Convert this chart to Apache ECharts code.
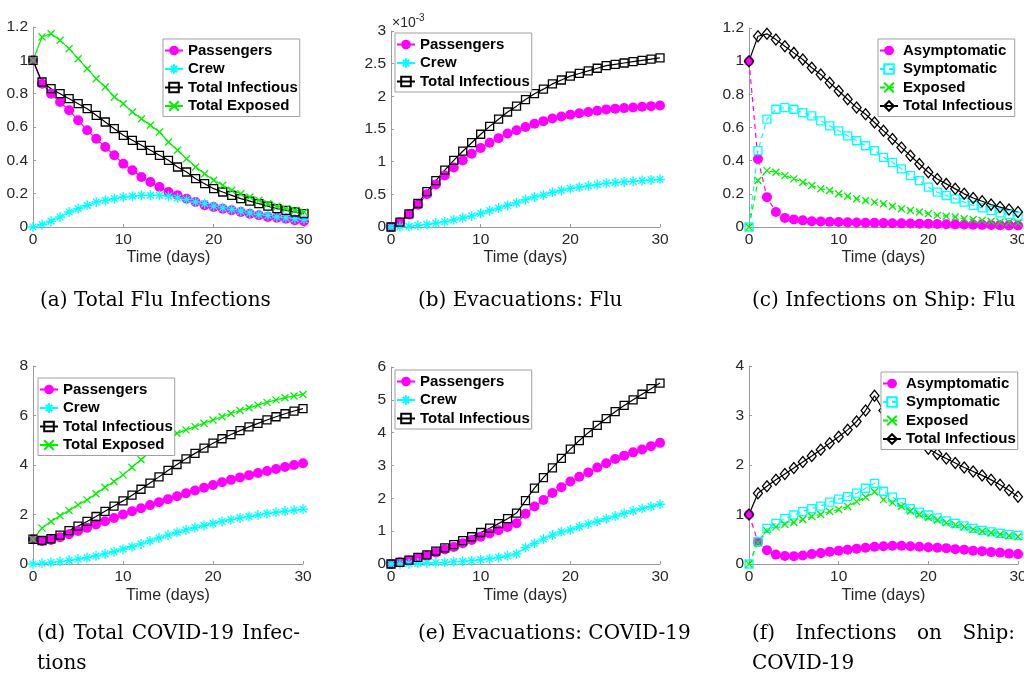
<!DOCTYPE html>
<html><head><meta charset="utf-8">
<script src="https://cdn.jsdelivr.net/npm/echarts@6/dist/echarts.min.js"></script>
<style>html,body{margin:0;padding:0;background:#fff}#chart{width:1024px;height:680px}</style>
</head><body><div id="chart"></div>
<script>
// ---------------- DATA ----------------
const days = [0,1,2,3,4,5,6,7,8,9,10,11,12,13,14,15,16,17,18,19,20,21,22,23,24,25,26,27,28,29,30];
const xTicks = [0, 10, 20, 30];

// (a) Total Flu Infections
const fluPassengers = [1.0,0.86,0.80,0.75,0.70,0.64,0.58,0.53,0.48,0.43,0.38,0.34,0.30,0.27,0.24,0.21,0.19,0.17,0.15,0.13,0.12,0.11,0.10,0.09,0.08,0.07,0.06,0.055,0.05,0.04,0.035];
const fluCrew = [0,0.015,0.035,0.06,0.09,0.11,0.13,0.15,0.16,0.17,0.18,0.185,0.19,0.19,0.19,0.185,0.175,0.165,0.15,0.14,0.125,0.115,0.105,0.095,0.085,0.075,0.07,0.06,0.055,0.05,0.045];
const fluTotalInfectious = [1.0,0.87,0.83,0.80,0.77,0.74,0.71,0.67,0.63,0.59,0.55,0.52,0.49,0.46,0.43,0.40,0.36,0.33,0.29,0.26,0.23,0.21,0.19,0.17,0.155,0.14,0.125,0.11,0.10,0.09,0.08];
const fluTotalExposed = [1.0,1.14,1.16,1.12,1.07,1.01,0.95,0.89,0.84,0.78,0.74,0.69,0.65,0.61,0.57,0.51,0.46,0.41,0.36,0.32,0.28,0.25,0.22,0.20,0.18,0.16,0.14,0.125,0.11,0.10,0.09];

// (b) Evacuations: Flu  (units of 1e-3)
const evacFluPassengers = [0,0.07,0.19,0.34,0.50,0.65,0.79,0.91,1.02,1.12,1.21,1.29,1.36,1.43,1.48,1.53,1.58,1.62,1.66,1.69,1.72,1.74,1.76,1.78,1.80,1.81,1.82,1.83,1.84,1.85,1.86];
const evacFluCrew = [0,0.003,0.01,0.025,0.04,0.06,0.08,0.11,0.14,0.17,0.21,0.25,0.29,0.33,0.37,0.42,0.46,0.49,0.53,0.56,0.59,0.61,0.63,0.65,0.67,0.68,0.69,0.70,0.71,0.72,0.73];
const evacFluTotal = [0,0.075,0.20,0.36,0.54,0.71,0.87,1.02,1.16,1.29,1.42,1.54,1.65,1.76,1.85,1.95,2.04,2.11,2.19,2.25,2.31,2.35,2.39,2.43,2.47,2.49,2.51,2.53,2.55,2.57,2.59];

// (c) Infections on Ship: Flu
const shipFluAsym = [1.0,0.41,0.18,0.09,0.055,0.045,0.04,0.035,0.033,0.031,0.03,0.028,0.027,0.026,0.025,0.024,0.023,0.022,0.021,0.02,0.019,0.018,0.017,0.016,0.015,0.014,0.013,0.012,0.011,0.01,0.009];
const shipFluSym = [0,0.46,0.65,0.71,0.72,0.71,0.69,0.67,0.64,0.61,0.58,0.55,0.52,0.49,0.46,0.42,0.39,0.35,0.31,0.28,0.24,0.21,0.19,0.17,0.15,0.13,0.115,0.10,0.085,0.075,0.065];
const shipFluExposed = [0,0.28,0.34,0.33,0.31,0.29,0.27,0.25,0.23,0.22,0.20,0.185,0.17,0.16,0.15,0.14,0.125,0.11,0.10,0.09,0.08,0.07,0.065,0.06,0.05,0.045,0.04,0.035,0.03,0.028,0.025];
const shipFluTotal = [1.0,1.15,1.165,1.13,1.09,1.05,1.01,0.96,0.92,0.87,0.82,0.77,0.72,0.68,0.63,0.58,0.53,0.48,0.43,0.38,0.33,0.29,0.26,0.23,0.20,0.175,0.155,0.135,0.12,0.105,0.09];

// (d) Total COVID-19 Infections
const covPassengers = [1.0,0.93,0.97,1.08,1.2,1.33,1.46,1.6,1.73,1.86,2.0,2.13,2.25,2.38,2.5,2.62,2.74,2.86,2.97,3.08,3.19,3.3,3.4,3.5,3.59,3.68,3.76,3.84,3.92,4.0,4.07];
const covCrew = [0,0.03,0.06,0.1,0.15,0.2,0.26,0.33,0.41,0.5,0.6,0.7,0.81,0.93,1.05,1.17,1.28,1.38,1.47,1.56,1.64,1.72,1.79,1.86,1.92,1.98,2.04,2.09,2.14,2.18,2.22];
const covTotalInfectious = [1.0,0.95,1.02,1.17,1.35,1.53,1.72,1.92,2.13,2.34,2.55,2.78,3.02,3.27,3.52,3.78,4.02,4.25,4.47,4.68,4.88,5.06,5.23,5.39,5.54,5.68,5.82,5.95,6.07,6.18,6.28];
const covTotalExposed = [1.0,1.45,1.72,1.95,2.16,2.39,2.59,2.84,3.1,3.33,3.6,3.91,4.21,4.52,4.8,5.08,5.28,5.42,5.55,5.69,5.82,5.95,6.08,6.2,6.31,6.42,6.53,6.63,6.72,6.79,6.85];

// (e) Evacuations: COVID-19
const evacCovPassengers = [0,0.05,0.11,0.18,0.25,0.35,0.44,0.52,0.63,0.73,0.83,0.93,1.03,1.13,1.24,1.53,1.75,1.95,2.16,2.34,2.51,2.66,2.79,2.94,3.07,3.2,3.3,3.4,3.49,3.59,3.69];
const evacCovCrew = [0,0,0.01,0.02,0.03,0.04,0.05,0.07,0.08,0.1,0.13,0.16,0.2,0.25,0.31,0.5,0.63,0.76,0.88,0.98,1.04,1.14,1.22,1.3,1.38,1.46,1.54,1.62,1.69,1.75,1.82];
const evacCovTotal = [0,0.05,0.12,0.2,0.28,0.39,0.49,0.59,0.71,0.83,0.96,1.09,1.23,1.38,1.55,1.93,2.31,2.63,2.93,3.22,3.5,3.76,4.0,4.22,4.43,4.64,4.83,5.0,5.17,5.34,5.51];

// (f) Infections on Ship: COVID-19
const shipCovAsym = [1.0,0.45,0.28,0.19,0.16,0.155,0.17,0.2,0.22,0.25,0.27,0.29,0.31,0.33,0.35,0.36,0.37,0.37,0.36,0.35,0.34,0.33,0.32,0.3,0.29,0.27,0.26,0.24,0.23,0.21,0.2];
const shipCovSym = [0,0.45,0.72,0.82,0.92,0.99,1.06,1.12,1.17,1.25,1.31,1.36,1.43,1.53,1.63,1.47,1.35,1.24,1.12,1.05,0.99,0.93,0.87,0.82,0.77,0.72,0.68,0.65,0.62,0.6,0.58];
const shipCovExposed = [0,0.43,0.67,0.75,0.80,0.84,0.90,0.96,1.0,1.06,1.10,1.16,1.26,1.35,1.46,1.3,1.24,1.16,1.07,1.0,0.94,0.89,0.83,0.79,0.75,0.7,0.66,0.63,0.6,0.57,0.55];
const shipCovTotal = [1.0,1.43,1.57,1.70,1.82,1.94,2.06,2.18,2.31,2.44,2.57,2.71,2.88,3.10,3.40,3.1,2.93,2.77,2.62,2.47,2.33,2.22,2.13,2.04,1.95,1.87,1.79,1.70,1.60,1.49,1.36];

// axis ranges [max, step]
const yRangeA = [1.2, 0.2], yRangeB = [3, 0.5], yRangeC = [1.2, 0.2];
const yRangeD = [8, 2], yRangeE = [6, 1], yRangeF = [4, 1];

const captions = ['(a) Total Flu Infections', '(b) Evacuations: Flu', '(c) Infections on Ship: Flu',
  '(d) Total COVID-19 Infec-', 'tions', '(e) Evacuations: COVID-19', '(f) Infections on Ship:', 'COVID-19'];

// ---------------- STYLE ----------------
const M = '#FF00FF', C = '#00FFFF', G = '#00F000', K = '#000000', T = 'rgba(0,0,0,0)';
const ASTER = 'path://M5,0L5,10M0,5L10,5M1.6,1.6L8.4,8.4M1.6,8.4L8.4,1.6';
const XMARK = 'path://M0,0L10,10M0,10L10,0';
const STY = {
  passengers: {label:'Passengers', symbol:'circle', size:10, line:M, fill:M, border:M, bw:0, dash:'solid'},
  crew:       {label:'Crew', symbol:ASTER, size:10, line:C, fill:T, border:C, bw:1.3, dash:'solid'},
  totInfSq:   {label:'Total Infectious', symbol:'rect', size:8, line:K, fill:T, border:K, bw:1.3, dash:'solid'},
  totExp:     {label:'Total Exposed', symbol:XMARK, size:7, line:G, fill:T, border:G, bw:1.3, dash:'solid'},
  asym:       {label:'Asymptomatic', symbol:'circle', size:10, line:M, fill:M, border:M, bw:0, dash:[5,4]},
  sym:        {label:'Symptomatic', symbol:'rect', size:8, line:C, fill:T, border:C, bw:1.3, dash:[5,4]},
  exposed:    {label:'Exposed', symbol:XMARK, size:7, line:G, fill:T, border:G, bw:1.3, dash:[5,4]},
  totInfDia:  {label:'Total Infectious', symbol:'diamond', size:[9,11], line:K, fill:T, border:K, bw:1.3, dash:'solid'}
};

const panels = [
  {id:'a', grid:{left:33, top:27, width:271, height:200}, y:yRangeA, legend:{left:163, top:39},
   s:[['passengers',fluPassengers],['crew',fluCrew],['totInfSq',fluTotalInfectious],['totExp',fluTotalExposed]]},
  {id:'b', grid:{left:391, top:31, width:269, height:196}, y:yRangeB, legend:{left:395, top:33}, exp:true,
   s:[['passengers',evacFluPassengers],['crew',evacFluCrew],['totInfSq',evacFluTotal]]},
  {id:'c', grid:{left:749, top:28, width:269, height:199}, y:yRangeC, legend:{left:878, top:39},
   s:[['asym',shipFluAsym],['sym',shipFluSym],['exposed',shipFluExposed],['totInfDia',shipFluTotal]]},
  {id:'d', grid:{left:33, top:366, width:270, height:198}, y:yRangeD, legend:{left:38, top:378},
   s:[['passengers',covPassengers],['crew',covCrew],['totInfSq',covTotalInfectious],['totExp',covTotalExposed]]},
  {id:'e', grid:{left:391, top:367, width:269, height:197}, y:yRangeE, legend:{left:395, top:370},
   s:[['passengers',evacCovPassengers],['crew',evacCovCrew],['totInfSq',evacCovTotal]]},
  {id:'f', grid:{left:749, top:366, width:269, height:198}, y:yRangeF, legend:{left:881, top:372},
   s:[['asym',shipCovAsym],['sym',shipCovSym],['exposed',shipCovExposed],['totInfDia',shipCovTotal]]}
];

const SANS = '"Liberation Sans", Arial, Helvetica, sans-serif';
const AX = '#9a9a9a', TXT = '#262626';

const option = {backgroundColor:'#fff', animation:false, grid:[], xAxis:[], yAxis:[], series:[], legend:[], graphic:[]};

panels.forEach((p, i) => {
  option.grid.push(Object.assign({containLabel:false, outerBoundsMode:'none'}, p.grid));
  option.xAxis.push({
    gridIndex:i, type:'value', min:xTicks[0], max:xTicks[xTicks.length-1], interval:xTicks[1]-xTicks[0],
    axisLine:{show:true, onZero:false, lineStyle:{color:AX, width:1}},
    axisTick:{show:true, inside:true, length:3, lineStyle:{color:AX}},
    axisLabel:{color:TXT, fontSize:15.5, fontFamily:SANS, margin:5},
    splitLine:{show:false},
    name:'Time (days)', nameLocation:'middle', nameGap: i < 3 ? 23 : 24,
    nameTextStyle:{color:TXT, fontSize:16, fontFamily:SANS}
  });
  const y = {
    gridIndex:i, type:'value', min:0, max:p.y[0], interval:p.y[1],
    axisLine:{show:true, onZero:false, lineStyle:{color:AX, width:1}},
    axisTick:{show:true, inside:true, length:3, lineStyle:{color:AX}},
    axisLabel:{color:TXT, fontSize:15.5, fontFamily:SANS, margin:5},
    splitLine:{show:false}
  };
  if (p.exp) {
    y.name = '{m|×10}{e|-3}';
    y.nameLocation = 'end';
    y.nameGap = 1;
    y.nameTextStyle = {align:'left', verticalAlign:'bottom', padding:[0,0,0,1],
      rich:{m:{fontSize:14, fontFamily:SANS, color:TXT, verticalAlign:'bottom'},
            e:{fontSize:10, fontFamily:SANS, color:TXT, verticalAlign:'top', padding:[0,0,7,0]}}};
  }
  option.yAxis.push(y);
  const names = [];
  p.s.forEach(([key, arr]) => {
    const st = STY[key];
    const name = p.id + '|' + st.label;
    names.push(name);
    option.series.push({
      type:'line', name, xAxisIndex:i, yAxisIndex:i,
      data: days.map((d, k) => [d, arr[k]]),
      symbol: st.symbol, symbolSize: st.size, showAllSymbol:true,
      lineStyle:{color:st.line, width:1.2, type:st.dash},
      itemStyle:{color:st.fill, borderColor:st.border, borderWidth:st.bw},
      emphasis:{disabled:true}, silent:true, animation:false
    });
  });
  option.legend.push({
    left:p.legend.left, top:p.legend.top, orient:'vertical', data:names,
    formatter: n => n.split('|')[1],
    itemWidth:18, itemHeight:12, itemGap:3.5, padding:[4,2,3,1],
    backgroundColor:'#fff', borderColor:'#a0a0a0', borderWidth:1, borderRadius:0,
    selectedMode:false,
    textStyle:{color:'#000', fontWeight:'bold', fontSize:15, fontFamily:SANS}
  });
});

// captions (LaTeX-like, justified where the reference wraps)
const SERIF = '20px "DejaVu Serif", serif';
const ctx = document.createElement('canvas').getContext('2d');
ctx.font = SERIF;
function plain(text, x, y) {
  option.graphic.push({type:'text', x, y, silent:true,
    style:{text, font:SERIF, fill:'#000', align:'left', verticalAlign:'middle', textVerticalAlign:'middle'}});
}
function justified(text, x0, x1, y) {
  const words = text.split(' ');
  const widths = words.map(w => ctx.measureText(w).width);
  const total = widths.reduce((a,b)=>a+b, 0);
  const gap = (x1 - x0 - total) / (words.length - 1);
  let x = x0;
  words.forEach((w, k) => { plain(w, x, y); x += widths[k] + gap; });
}
plain(captions[0], 40, 301);
plain(captions[1], 418, 301);
plain(captions[2], 752, 301);
justified(captions[3], 37, 300, 634);
plain(captions[4], 37, 664);
plain(captions[5], 418, 634);
justified(captions[6], 752, 1015, 634);
plain(captions[7], 752, 664);

const chart = echarts.init(document.getElementById('chart'), null, {renderer:'canvas', width:1024, height:680});
chart.setOption(option);
</script>
</body></html>
